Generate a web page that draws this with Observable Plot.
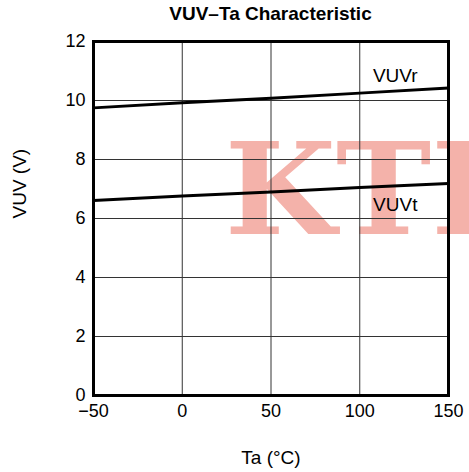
<!DOCTYPE html>
<html><head><meta charset="utf-8">
<script src="https://cdn.jsdelivr.net/npm/d3@7"></script>
<script src="https://cdn.jsdelivr.net/npm/@observablehq/plot@0.6"></script>
<style>
body{margin:0;background:#fff;font-family:"Liberation Sans",Arial,sans-serif;}
#title{height:28px;line-height:28px;font-weight:bold;font-size:19px;text-align:center;padding-left:72px;width:397px;color:#000;}
</style></head><body>
<div id="title">VUV–Ta Characteristic</div>
<div id="chart"></div>
<script>
const temps = [-50, 0, 50, 100, 150];
const vuvr = [9.75, 9.92, 10.08, 10.25, 10.42];
const vuvt = [6.61, 6.76, 6.90, 7.05, 7.19];
const xTicks = [-50, 0, 50, 100, 150];
const yTicks = [0, 2, 4, 6, 8, 10, 12];
const seriesNames = ["VUVr", "VUVt"];
const labelT = [120, 120];
const labelV = [10.85, 6.45];
const xLabel = "Ta (°C)";
const yLabel = "VUV (V)";

const rows = [];
temps.forEach((t, i) => {
  rows.push({series: "VUVr", t, v: vuvr[i]});
  rows.push({series: "VUVt", t, v: vuvt[i]});
});
const labels = seriesNames.map((s, i) => ({s, t: labelT[i], v: labelV[i]}));

const chart = Plot.plot({
  width: 469,
  height: 444,
  marginTop: 13,
  marginBottom: 77,
  marginLeft: 93,
  marginRight: 21,
  style: {fontFamily: "'Liberation Sans', Arial, sans-serif", fontSize: "18px", color: "#000", background: "#fff"},
  x: {domain: [-50, 150]},
  y: {domain: [0, 12]},
  marks: [
    Plot.text(["KTI"], {x: 24, y: 5.49, text: d => d, textAnchor: "start", lineAnchor: "bottom",
      fontSize: 128, fontWeight: "bold", fontFamily: "'DejaVu Serif', serif", fill: "#f4b2aa"}),
    Plot.gridX(xTicks.slice(1, -1), {stroke: "#333", strokeOpacity: 1, strokeWidth: 1}),
    Plot.gridY(yTicks.slice(1, -1), {stroke: "#333", strokeOpacity: 1, strokeWidth: 1}),
    Plot.line(rows, {x: "t", y: "v", z: "series", stroke: "#000", strokeWidth: 3}),
    Plot.frame({stroke: "#000", strokeWidth: 3}),
    Plot.text(labels, {x: "t", y: "v", text: "s", fontSize: 19, fill: "#000"}),
    Plot.axisX(xTicks, {tickSize: 0, tickPadding: 9, fontSize: 18, label: null}),
    Plot.axisY(yTicks, {tickSize: 0, tickPadding: 8, fontSize: 18, label: null}),
    Plot.text([xLabel], {text: d => d, frameAnchor: "bottom", dy: 62, lineAnchor: "middle", fontSize: 19, fill: "#000"}),
    Plot.text([yLabel], {text: d => d, frameAnchor: "left", dx: -74, rotate: -90, lineAnchor: "middle", fontSize: 19, fill: "#000"})
  ]
});
document.getElementById("chart").appendChild(chart);
</script>
</body></html>
